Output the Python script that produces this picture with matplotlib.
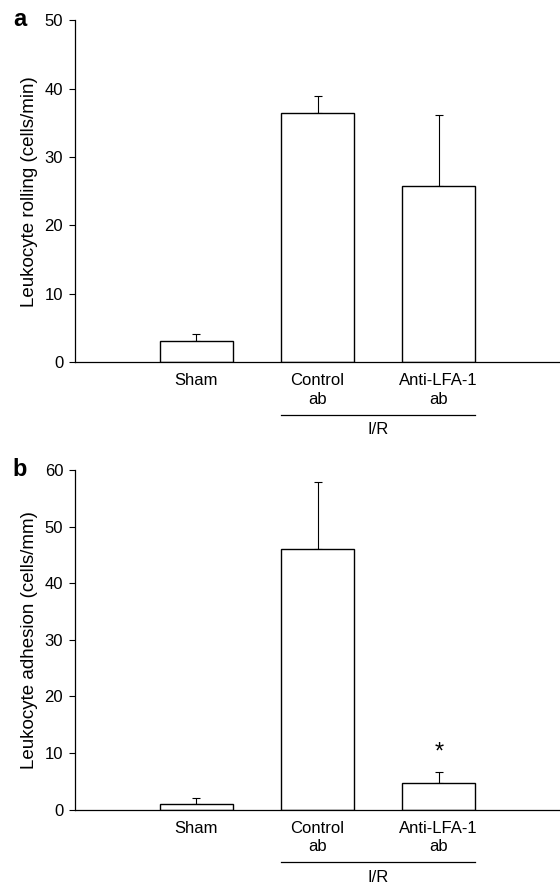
import matplotlib
matplotlib.use("Agg")
import matplotlib.pyplot as plt
import matplotlib.transforms as mtransforms

plt.rcParams['font.family'] = ['Liberation Sans', 'DejaVu Sans']

groups = ["Sham", "Control\nab", "Anti-LFA-1\nab"]
rolling = [3.0, 36.4, 25.7]
rolling_err = [1.1, 2.6, 10.5]
adhesion = [1.0, 46.0, 4.7]
adhesion_err = [1.0, 11.8, 2.0]
star_group = 2  # Anti-LFA-1 significant in panel b


def panel(ax, values, errors, ymax, ylabel, star=None):
    xs = [1, 2, 3]
    ax.bar(xs, values, width=0.6, color="white", edgecolor="black", linewidth=1.0, zorder=2)
    ax.errorbar(xs, values, yerr=[[0, 0, 0], errors], fmt="none", ecolor="black",
                elinewidth=0.8, capsize=3, capthick=0.8, zorder=1)
    ax.set_xlim(0, 4)
    ax.set_ylim(0, ymax)
    ax.set_yticks(range(0, ymax + 1, 10))
    ax.set_xticks(xs)
    ax.set_xticklabels(groups, fontsize=12, linespacing=1.3)
    ax.tick_params(axis="x", length=0, pad=8)
    ax.tick_params(axis="y", length=4.5, width=0.8, pad=4, labelsize=12, direction="out")
    for s in ["top", "right"]:
        ax.spines[s].set_visible(False)
    for s in ["left", "bottom"]:
        ax.spines[s].set_linewidth(0.9)
    ax.set_ylabel(ylabel, fontsize=13.5, labelpad=4.5)
    trans = mtransforms.blended_transform_factory(ax.transData, ax.transAxes)
    ax.plot([2 - 0.3, 3 + 0.3], [-0.155, -0.155], color="black", lw=0.9,
            transform=trans, clip_on=False)
    ax.text(2.5, -0.198, "I/R", transform=trans, ha="center", va="center", fontsize=12)
    if star is not None:
        ax.text(xs[star], values[star] + errors[star] + 3.4, "*", ha="center",
                va="center", fontsize=17)


fig = plt.figure(figsize=(5.6, 8.85), dpi=100)
ax1 = fig.add_axes([0.134, 0.591, 0.866, 0.386])
ax2 = fig.add_axes([0.134, 0.085, 0.866, 0.384])

panel(ax1, rolling, rolling_err, 50, "Leukocyte rolling (cells/min)")
panel(ax2, adhesion, adhesion_err, 60, "Leukocyte adhesion (cells/mm)", star=star_group)

fig.text(0.023, 0.9785, "a", ha="left", va="center", fontsize=17, fontweight="bold")
fig.text(0.023, 0.470, "b", ha="left", va="center", fontsize=17, fontweight="bold")

fig.savefig("out.png", dpi=100)
